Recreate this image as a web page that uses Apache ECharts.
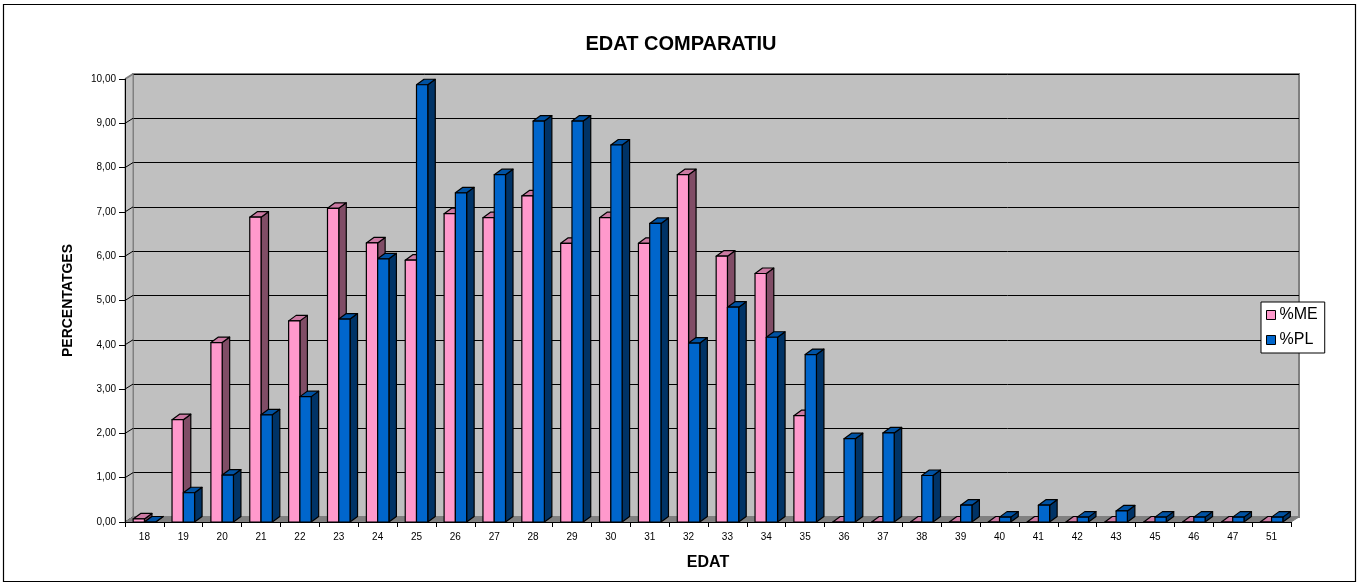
<!DOCTYPE html>
<html>
<head>
<meta charset="utf-8">
<script src="https://cdn.jsdelivr.net/npm/echarts@6/dist/echarts.min.js"></script>
<style>html,body{margin:0;padding:0;background:#fff;}#c{width:1362px;height:586px;}</style>
</head>
<body>
<div id="c"></div>
<script>
const categories = ['18','19','20','21','22','23','24','25','26','27','28','29','30','31','32','33','34','35','36','37','38','39','40','41','42','43','45','46','47','51'];
const meValues = [0.07,2.31,4.05,6.88,4.54,7.08,6.30,5.91,6.96,6.87,7.36,6.29,6.87,6.29,7.84,6.00,5.61,2.40,0,0,0,0,0,0,0,0,0,0,0,0];
const plValues = [0,0.66,1.06,2.42,2.83,4.58,5.94,9.87,7.43,7.84,9.05,9.05,8.51,6.74,4.04,4.85,4.17,3.78,1.88,2.01,1.05,0.38,0.11,0.38,0.11,0.25,0.11,0.11,0.11,0.11];
const yTicks = [0,1,2,3,4,5,6,7,8,9,10];

const FONT = 'Liberation Sans, Arial, sans-serif';
const DX = 7.5, DY = 5.5;       // bar depth
const WDX = 8, WDY = 5;         // wall offset

function barRender(side, colors) {
  return function (params, api) {
    const idx = api.value(0), v = api.value(1);
    const base = api.coord([idx, 0]);
    const top = api.coord([idx, v]);
    const band = api.size([1, 0])[0];
    const w = band * 0.29;
    const x0 = side < 0 ? base[0] - w : base[0];
    const x1 = x0 + w;
    const yb = base[1], yt = top[1];
    const st = {stroke: '#000', lineWidth: 1.2, lineJoin: 'round'};
    return {
      type: 'group',
      children: [
        {type: 'polygon', shape: {points: [[x1, yb], [x1 + DX, yb - DY], [x1 + DX, yt - DY], [x1, yt]]},
          style: Object.assign({fill: colors[2]}, st)},
        {type: 'polygon', shape: {points: [[x0, yt], [x0 + DX, yt - DY], [x1 + DX, yt - DY], [x1, yt]]},
          style: Object.assign({fill: colors[1]}, st)},
        {type: 'rect', shape: {x: x0, y: yt, width: w, height: yb - yt},
          style: Object.assign({fill: colors[0]}, st)}
      ]
    };
  };
}

function decorRender(params, api) {
  const cs = params.coordSys;
  const l = cs.x, r = cs.x + cs.width, b = cs.y + cs.height, t = cs.y;
  const children = [];
  children.push({type: 'polygon', shape: {points: [[l, t], [l + WDX, t - WDY], [l + WDX, b - WDY], [l, b]]},
    style: {fill: '#C0C0C0', stroke: '#808080', lineWidth: 1}});
  yTicks.forEach(function (v) {
    const y = api.coord([0, v])[1];
    children.push({type: 'line', shape: {x1: l, y1: y, x2: l + WDX, y2: y - WDY},
      style: {stroke: v === 10 ? '#808080' : '#000', lineWidth: v === 10 ? 2 : 1}});
  });
  children.push({type: 'polygon', shape: {points: [[l, b], [r, b], [r + WDX, b - WDY], [l + WDX, b - WDY]]},
    style: {fill: '#808080', stroke: '#808080', lineWidth: 1}});
  return {type: 'group', children: children};
}

const chart = echarts.init(document.getElementById('c'), null, {renderer: 'canvas'});
chart.setOption({
  backgroundColor: '#fff',
  animation: false,
  textStyle: {fontFamily: FONT},
  title: {
    text: 'EDAT COMPARATIU', left: 'center', top: 29,
    textStyle: {fontFamily: FONT, fontSize: 20, fontWeight: 'bold', color: '#000'}
  },
  legend: {
    orient: 'vertical', left: 1261, top: 302,
    backgroundColor: '#fff', borderColor: '#000', borderWidth: 1,
    padding: [5, 7, 5, 5], itemGap: 9, itemWidth: 9, itemHeight: 9,
    selectedMode: false,
    textStyle: {fontFamily: FONT, fontSize: 16, color: '#000', padding: [0, 0, 0, -1]},
    data: [
      {name: '%ME', icon: 'rect', itemStyle: {color: '#FF99CC', borderColor: '#000', borderWidth: 1}},
      {name: '%PL', icon: 'rect', itemStyle: {color: '#0066CC', borderColor: '#000', borderWidth: 1}}
    ]
  },
  graphic: [{
    type: 'rect', shape: {x: 3.5, y: 4.5, width: 1352, height: 577},
    style: {fill: 'none', stroke: '#000', lineWidth: 1.2}, z: 100, silent: true
  }],
  grid: [
    {left: 125, right: 71, top: 79, bottom: 64},
    {left: 133, right: 63, top: 74, bottom: 69, show: true, backgroundColor: '#C0C0C0', borderColor: '#808080', borderWidth: 2}
  ],
  xAxis: [
    {
      type: 'category', gridIndex: 0, data: categories, z: 5,
      name: 'EDAT', nameLocation: 'middle', nameGap: 33,
      nameTextStyle: {fontFamily: FONT, fontSize: 16, fontWeight: 'bold', color: '#000'},
      axisLine: {lineStyle: {color: '#000', width: 1}},
      axisTick: {show: true, interval: 0, length: 5, lineStyle: {color: '#000'}},
      axisLabel: {interval: 0, fontSize: 10, color: '#000', margin: 10, fontFamily: FONT}
    },
    {type: 'category', gridIndex: 1, data: categories, show: false}
  ],
  yAxis: [
    {
      type: 'value', gridIndex: 0, min: 0, max: 10, interval: 1, z: 5,
      name: 'PERCENTATGES', nameLocation: 'middle', nameGap: 50,
      nameTextStyle: {fontFamily: FONT, fontSize: 14, fontWeight: 'bold', color: '#000'},
      axisLine: {show: true, lineStyle: {color: '#000', width: 1}},
      axisTick: {show: true, length: 6, lineStyle: {color: '#000'}},
      axisLabel: {fontSize: 10, color: '#000', margin: 9, fontFamily: FONT,
        formatter: function (v) { return v.toFixed(2).replace('.', ','); }},
      splitLine: {show: false}
    },
    {
      type: 'value', gridIndex: 1, min: 0, max: 10, interval: 1,
      axisLine: {show: false}, axisTick: {show: false}, axisLabel: {show: false},
      splitLine: {show: true, lineStyle: {color: '#000', width: 1}}
    }
  ],
  series: [
    {
      type: 'custom', name: 'decor', xAxisIndex: 0, yAxisIndex: 0, z: 1, silent: true, clip: false,
      renderItem: decorRender, data: [[0, 0]], legendHoverLink: false
    },
    {
      type: 'custom', name: '%ME', xAxisIndex: 0, yAxisIndex: 0, z: 2, clip: false,
      itemStyle: {color: '#FF99CC'},
      renderItem: barRender(-1, ['#FF99CC', '#CC7AA3', '#804D66']),
      encode: {x: 0, y: 1},
      data: meValues.map(function (v, i) { return [i, v]; })
    },
    {
      type: 'custom', name: '%PL', xAxisIndex: 0, yAxisIndex: 0, z: 3, clip: false,
      itemStyle: {color: '#0066CC'},
      renderItem: barRender(1, ['#0066CC', '#0052A3', '#003366']),
      encode: {x: 0, y: 1},
      data: plValues.map(function (v, i) { return [i, v]; })
    }
  ]
});
</script>
</body>
</html>
